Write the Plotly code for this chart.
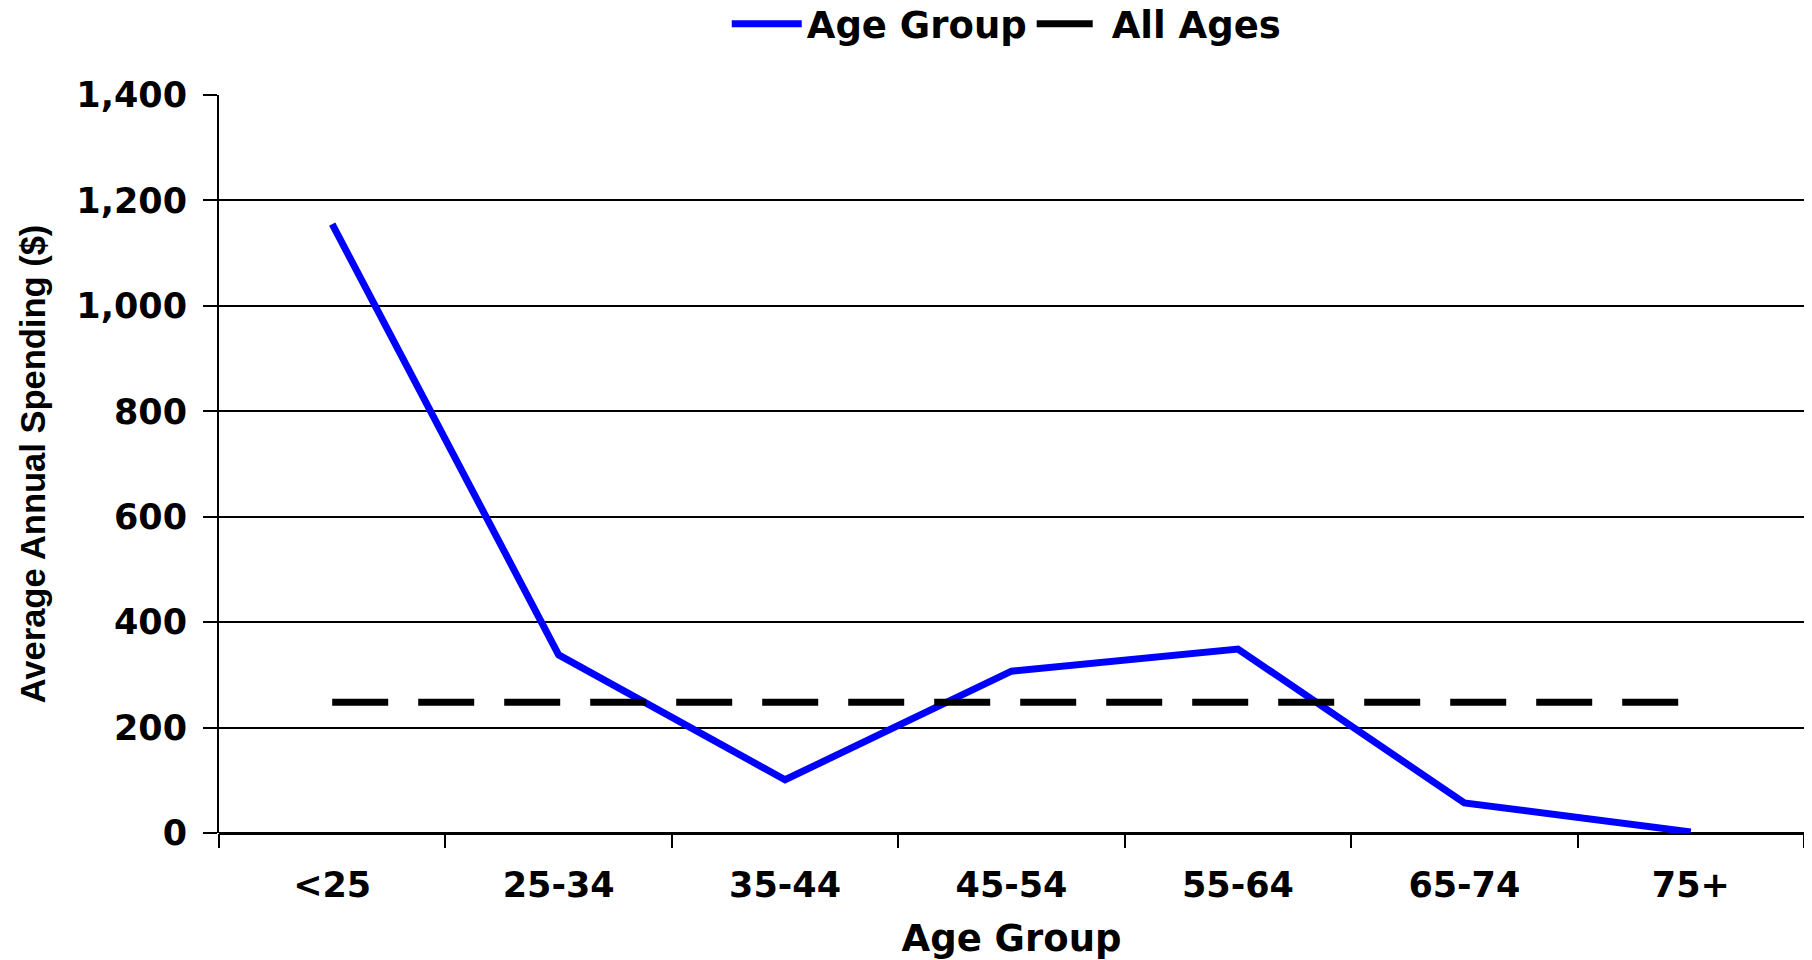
import plotly.graph_objects as go

age_groups = ["<25", "25-34", "35-44", "45-54", "55-64", "65-74", "75+"]
spending = [1155, 338, 101, 307, 349, 57, 2]
all_ages = [248, 248, 248, 248, 248, 248, 248]
y_ticks = [0, 200, 400, 600, 800, 1000, 1200, 1400]

wide_font = "DejaVu Sans"
narrow_font = "Liberation Sans, Arial"

fig = go.Figure()
fig.add_trace(go.Scatter(
    x=age_groups, y=spending, mode="lines", name="Age Group",
    line=dict(color="#0000FF", width=7),
))
fig.add_trace(go.Scatter(
    x=age_groups, y=all_ages, mode="lines", name="All Ages",
    line=dict(color="black", width=7, dash="56px,30px"),
))

# page body has an 8px margin, so the figure is 8px smaller each way
fig.update_layout(
    width=1804, height=952,
    margin=dict(l=211, r=8, t=87, b=127, autoexpand=False),
    paper_bgcolor="white", plot_bgcolor="white",
    showlegend=True,
    legend=dict(
        orientation="h", x=0.497, xanchor="center", y=0.983, yanchor="middle",
        yref="container",
        font=dict(family=wide_font, size=37, color="black", weight="bold"),
        itemwidth=70, tracegroupgap=0,
    ),
)

fig.update_xaxes(
    type="category", range=[-0.5, 6.5], tickson="boundaries",
    ticks="outside", ticklen=14, tickwidth=1.5, tickcolor="black",
    showline=False, showgrid=False,
    tickfont=dict(family=wide_font, size=35, color="black", weight="bold"),
    ticklabelstandoff=28,
    title=dict(text="Age Group", standoff=33,
               font=dict(family=wide_font, size=37, color="black", weight="bold")),
)
fig.update_yaxes(
    range=[0, 1400], tickvals=y_ticks, tickformat=",d",
    ticks="outside", ticklen=14, tickwidth=1.5, tickcolor="black",
    showline=True, linecolor="black", linewidth=2, mirror=True,
    showgrid=True, gridcolor="black", gridwidth=1.5,
    zeroline=True, zerolinecolor="black", zerolinewidth=3,
    tickfont=dict(family=wide_font, size=35, color="black", weight="bold"),
    ticklabelstandoff=9,
    title=dict(text="Average Annual Spending ($)", standoff=20,
               font=dict(family=narrow_font, size=34.5, color="black", weight="bold")),
)

fig.write_html("out.html")
